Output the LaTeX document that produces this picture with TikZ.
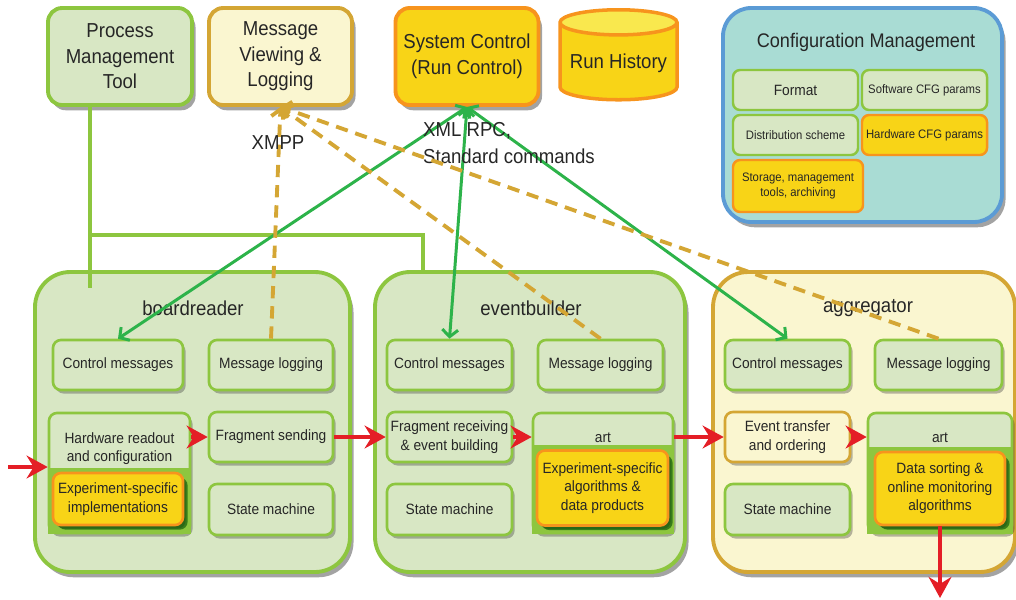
\documentclass[tikz,border=0pt]{standalone}
\usepackage{fontspec}
\setmainfont{Liberation Sans}[FakeStretch=0.92]
\usepackage{xcolor}
\usetikzlibrary{shapes.geometric, shadows, arrows.meta}
\definecolor{boxgreen}{RGB}{216,231,196}
\definecolor{linegreen}{RGB}{141,198,63}
\definecolor{paleyellow}{RGB}{250,246,208}
\definecolor{gold}{RGB}{212,166,52}
\definecolor{sunyellow}{RGB}{248,212,23}
\definecolor{lightsun}{RGB}{249,232,78}
\definecolor{deeporange}{RGB}{247,148,29}
\definecolor{cfgteal}{RGB}{169,220,212}
\definecolor{cfgblue}{RGB}{91,155,213}
\definecolor{ctrlgreen}{RGB}{45,179,74}
\definecolor{flowred}{RGB}{228,30,38}

\begin{document}
\begin{tikzpicture}[x=0.02cm, y=-0.02cm, text=black!85,
    boxsize/.style 2 args={minimum width=#1*0.02cm, minimum height=#2*0.02cm},
    bigshadow/.style={drop shadow={shadow xshift=2pt, shadow yshift=-3pt, opacity=0.45, fill=black!80}},
    smallshadow/.style={drop shadow={shadow xshift=1.5pt, shadow yshift=-2pt, opacity=0.35, fill=black!80}},
    greenbox/.style={draw=linegreen, fill=boxgreen},
    goldbox/.style={draw=gold, fill=paleyellow},
    orangebox/.style={draw=deeporange, fill=sunyellow},
    topbox/.style={rounded corners=8pt, line width=2.2pt, align=center, inner sep=1pt,
        font=\fontsize{11.5}{14.5}\selectfont, bigshadow},
    bigbox/.style={rounded corners=20pt, line width=2.2pt, inner sep=0pt, bigshadow},
    bigtitle/.style={font=\fontsize{11.5}{14}\selectfont},
    subbox/.style={rounded corners=4.5pt, line width=1.5pt, align=center, inner sep=1pt,
        font=\fontsize{8.5}{10.5}\selectfont, smallshadow},
    cfgitem/.style={rounded corners=4pt, line width=1.4pt, align=center, inner sep=1pt,
        font=\fontsize{7}{9}\selectfont},
    ctrl/.style={{Straight Barb[length=4pt,width=9pt]}-{Straight Barb[length=4pt,width=9pt]}, ctrlgreen, line width=1.7pt},
    logline/.style={-{Straight Barb[length=4pt,width=10pt]}, gold, line width=2.2pt, dash pattern=on 7pt off 4.5pt},
    flow/.style={-{Stealth[length=12pt,width=13pt,inset=4pt]}, flowred, line width=2.8pt},
    bus/.style={linegreen, line width=2pt}]
    \useasboundingbox (0,0) rectangle (1016,599);

    % Top row
    \node[topbox, greenbox, boxsize={144}{97}] (pmt) at (120,56.5) {Process\\Management\\Tool};
    \node[topbox, goldbox, boxsize={143}{97}] (mvl) at (280.5,56.5) {Message\\Viewing \&\\Logging};
    \node[topbox, orangebox, boxsize={143}{97}] (sysctl) at (467,56.5) {System Control\\(Run Control)};
    \node[cylinder, shape border rotate=90, aspect=0.25, draw=deeporange, line width=2pt,
        cylinder uses custom fill, cylinder body fill=sunyellow, cylinder end fill=lightsun,
        boxsize={117}{90}, inner sep=1pt, anchor=north, font=\fontsize{11.5}{14}\selectfont] (runhist) at (618.5,8) {Run History};

    % Configuration management
    \node[bigbox, draw=cfgblue, fill=cfgteal, rounded corners=16pt, boxsize={279}{214}] (cfg) at (862.5,115) {};
    \node[font=\fontsize{11.2}{14}\selectfont] (cfgtitle) at (866,42) {Configuration Management};
    \node[cfgitem, greenbox, boxsize={125}{40}, font=\fontsize{8.5}{10}\selectfont] (cfgformat) at (795.5,90) {Format};
    \node[cfgitem, greenbox, boxsize={125}{40}] (cfgsoft) at (924.5,90) {Software CFG params};
    \node[cfgitem, greenbox, boxsize={125}{40}] (cfgdist) at (795.5,135) {Distribution scheme};
    \node[cfgitem, orangebox, boxsize={125}{40}] (cfghard) at (924.5,135) {Hardware CFG params};
    \node[cfgitem, orangebox, boxsize={130}{52}] (cfgstore) at (798,186) {Storage, management\\tools, archiving};

    % boardreader
    \node[bigbox, greenbox, boxsize={315}{300}] (br) at (192.5,422) {};
    \node[bigtitle] (brtitle) at (193,308) {boardreader};
    \node[subbox, greenbox, boxsize={130}{50}] (brctrl) at (118,365) {Control messages};
    \node[subbox, greenbox, boxsize={124}{50}] (brlog) at (271,365) {Message logging};
    \node[subbox, greenbox, boxsize={141}{120},
        label={[anchor=north, yshift=-8.5pt, align=center, font=\fontsize{8.5}{10}\selectfont]north:Hardware readout\\and configuration}] (hwro) at (119.5,473) {};
    \fill[linegreen] ([yshift=3pt]hwro.west |- 0,473) rectangle (hwro.south east);
    \node[subbox, orangebox, boxsize={130}{52}, drop shadow={fill=green!30!black, opacity=0.6}] (hwimpl) at (118,499) {Experiment-specific\\implementations};
    \node[subbox, greenbox, boxsize={124}{50}] (fragsend) at (271,437) {Fragment sending};
    \node[subbox, greenbox, boxsize={124}{51}] (brsm) at (271,509.5) {State machine};

    % eventbuilder
    \node[bigbox, greenbox, boxsize={310}{300}] (eb) at (530,422) {};
    \node[bigtitle] (ebtitle) at (531,308) {eventbuilder};
    \node[subbox, greenbox, boxsize={125}{50}] (ebctrl) at (449.5,365) {Control messages};
    \node[subbox, greenbox, boxsize={125}{50}] (eblog) at (600.5,365) {Message logging};
    \node[subbox, greenbox, boxsize={125}{50}] (fragrecv) at (449.5,437) {Fragment receiving\\\& event building};
    \node[subbox, greenbox, boxsize={140}{120},
        label={[anchor=north, yshift=-8.5pt, font=\fontsize{8.5}{10}\selectfont]north:art}] (ebart) at (603,473) {};
    \fill[linegreen] ([yshift=3pt]ebart.west |- 0,450) rectangle (ebart.south east);
    \node[subbox, orangebox, boxsize={131}{75}, drop shadow={fill=green!30!black, opacity=0.6}] (ebalgo) at (602.5,488) {Experiment-specific\\algorithms \&\\data products};
    \node[subbox, greenbox, boxsize={125}{51}] (ebsm) at (449.5,509.5) {State machine};

    % aggregator
    \node[bigbox, goldbox, boxsize={302}{300}] (ag) at (864,422) {};
    \node[bigtitle] (agtitle) at (868,308) {aggregator};
    \node[subbox, greenbox, boxsize={125}{50}] (agctrl) at (787.5,365) {Control messages};
    \node[subbox, greenbox, boxsize={127}{50}] (aglog) at (938.5,365) {Message logging};
    \node[subbox, goldbox, boxsize={125}{50}] (evtrans) at (787.5,437) {Event transfer\\and ordering};
    \node[subbox, greenbox, boxsize={144}{120},
        label={[anchor=north, yshift=-8.5pt, font=\fontsize{8.5}{10}\selectfont]north:art}] (agart) at (940,473) {};
    \fill[linegreen] ([yshift=3pt]agart.west |- 0,452) rectangle (agart.south east);
    \node[subbox, orangebox, boxsize={130}{73}, drop shadow={fill=green!30!black, opacity=0.6}] (agalgo) at (940,488.5) {Data sorting \&\\online monitoring\\algorithms};
    \node[subbox, greenbox, boxsize={125}{51}] (agsm) at (787.5,509.5) {State machine};

    % Process management bus
    \coordinate (pmtbus) at (90,235);
    \draw[bus] (pmtbus |- pmt.south) -- ([yshift=-0.36cm]pmtbus |- br.north);
    \draw[bus] (pmtbus) -| ([xshift=-2.14cm]eb.north);

    % Run control links
    \draw[ctrl] (sysctl.south) -- (brctrl.north);
    \draw[ctrl] (sysctl.south) -- (ebctrl.north);
    \draw[ctrl] (sysctl.south) -- (agctrl.north);
    \node[font=\fontsize{11.5}{15}\selectfont, anchor=west, align=left] (xmllbl) at (417,143) {XML RPC,\\Standard commands};

    % Message logging links
    \draw[logline] (brlog.north) -- (mvl.south);
    \draw[logline] (eblog.north) -- (mvl.south);
    \draw[logline] (aglog.north) -- (mvl.south);
    \node[font=\fontsize{11.5}{14}\selectfont] (xmpplbl) at (278,143) {XMPP};

    % Data flow
    \coordinate (datain) at (8,467);
    \coordinate (dataout) at (940,598);
    \draw[flow] (datain) -- (datain -| hwro.west);
    \draw[flow] (hwro.east |- fragsend) -- (fragsend.west);
    \draw[flow] (fragsend.east) -- (fragrecv.west);
    \draw[flow] (fragrecv.east) -- (fragrecv -| ebart.west);
    \draw[flow] (ebart.east |- evtrans) -- (evtrans.west);
    \draw[flow] (evtrans.east) -- (evtrans -| agart.west);
    \draw[flow] (agalgo.south) -- (dataout);
\end{tikzpicture}
\end{document}
